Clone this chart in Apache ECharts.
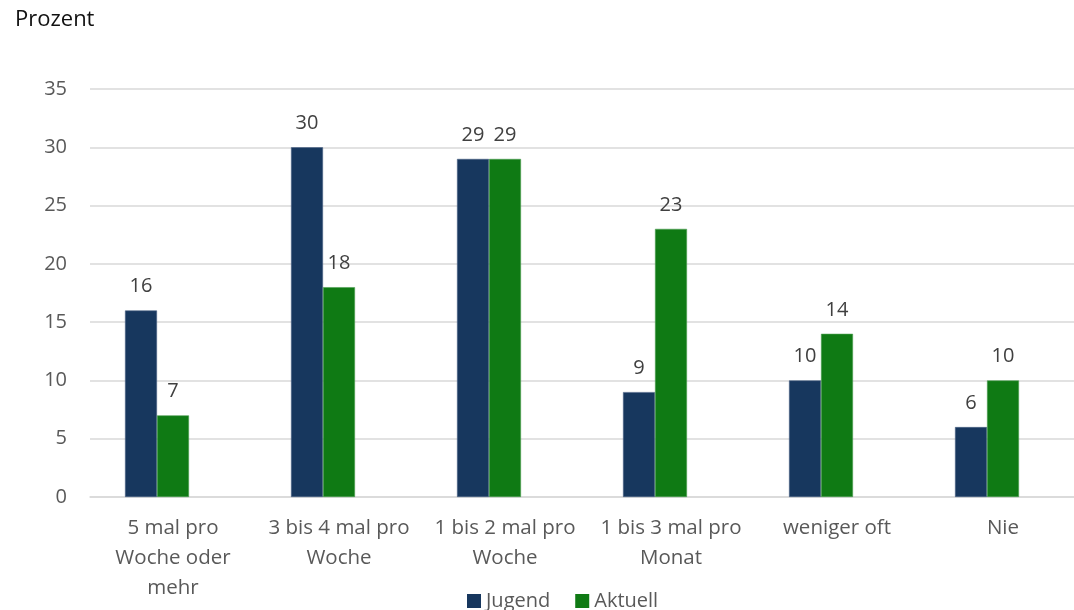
<!DOCTYPE html>
<html>
<head>
<meta charset="utf-8">
<title>Prozent</title>
<script src="https://cdn.jsdelivr.net/npm/echarts@6/dist/echarts.min.js"></script>
<style>
  html, body { margin: 0; padding: 0; background: #ffffff; overflow: hidden; }
  /* Zeichenfläche etwas breiter als das Fenster: das Raster läuft rechts aus */
  #chart { width: 1086px; height: 610px; }
</style>
</head>
<body>
<div id="chart"></div>
<script>
// Häufigkeit: damals (Jugend) und heute (Aktuell), Angaben in Prozent
const categories = [
  '5 mal pro\nWoche oder\nmehr',
  '3 bis 4 mal pro\nWoche',
  '1 bis 2 mal pro\nWoche',
  '1 bis 3 mal pro\nMonat',
  'weniger oft',
  'Nie'
];
const jugend = [16, 30, 29, 9, 10, 6];
const aktuell = [7, 18, 29, 23, 14, 10];
// leere dritte Reihe: hält den Platz rechts neben den beiden Balken frei
const reserve = ['-', '-', '-', '-', '-', '-'];
const yTicks = { min: 0, max: 35, interval: 5 };

const FONT = '"Open Sans", "Noto Sans", sans-serif';
const TEXT = '#595959';

const labelStyle = {
  show: true,
  position: 'top',
  distance: 14,
  fontSize: 20,
  fontFamily: FONT,
  color: '#404040'
};

const chart = echarts.init(document.getElementById('chart'), null, { renderer: 'canvas' });
chart.setOption({
  animation: false,
  backgroundColor: '#ffffff',
  title: {
    text: 'Prozent',
    left: 10,
    top: 4,
    textStyle: { fontSize: 22, fontWeight: 'normal', fontFamily: FONT, color: '#111111' }
  },
  grid: { left: 90, top: 89, right: 0, height: 408, containLabel: false },
  legend: {
    data: ['Jugend', 'Aktuell'],
    left: 467,
    top: 591,
    padding: 0,
    itemWidth: 14,
    itemHeight: 14,
    itemGap: 25,
    icon: 'rect',
    itemStyle: { borderWidth: 0 },
    textStyle: { fontSize: 20, fontFamily: FONT, color: TEXT }
  },
  xAxis: {
    type: 'category',
    data: categories,
    axisTick: { show: false },
    axisLine: { show: true, lineStyle: { color: '#D9D9D9', width: 1.5 } },
    axisLabel: {
      interval: 0,
      margin: 16,
      fontSize: 20.5,
      lineHeight: 30,
      fontFamily: FONT,
      color: TEXT,
      align: 'center'
    }
  },
  yAxis: {
    type: 'value',
    min: yTicks.min,
    max: yTicks.max,
    interval: yTicks.interval,
    axisLine: { show: false },
    axisTick: { show: false },
    splitLine: { lineStyle: { color: '#D9D9D9', width: 1.5 } },
    axisLabel: { margin: 23, fontSize: 20, fontFamily: FONT, color: TEXT }
  },
  series: [
    {
      name: 'Jugend',
      type: 'bar',
      data: jugend,
      barWidth: 32,
      barGap: '0%',
      itemStyle: { color: '#17375E', borderColor: '#4A6285', borderWidth: 0.6 },
      label: labelStyle
    },
    {
      name: 'Aktuell',
      type: 'bar',
      data: aktuell,
      barWidth: 32,
      barGap: '0%',
      itemStyle: { color: '#0F7A14', borderColor: '#4E9E52', borderWidth: 0.6 },
      label: labelStyle
    },
    {
      name: 'reserve',
      type: 'bar',
      data: reserve,
      barWidth: 32,
      barGap: '0%',
      silent: true
    }
  ]
});
</script>
</body>
</html>
